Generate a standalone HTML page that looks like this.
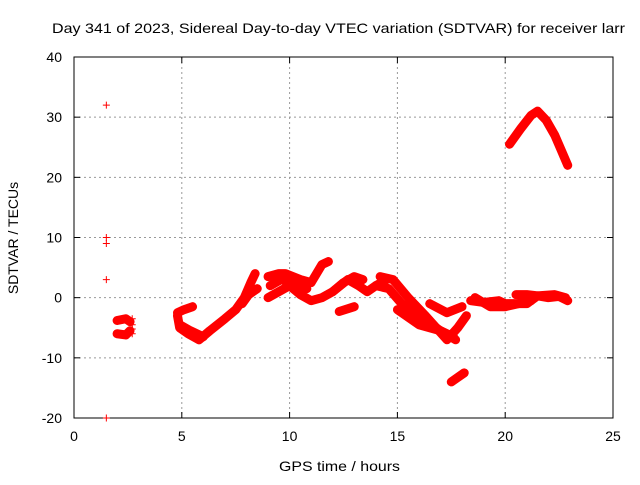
<!DOCTYPE html>
<html><head><meta charset="utf-8"><style>
body{margin:0;background:#fff;font-family:"Liberation Sans",sans-serif}
svg text{font-family:"Liberation Sans",sans-serif;font-size:14px;fill:#000}
</style></head><body>
<svg id="c" width="640" height="480"></svg>
<script>
const xTicks=[0,5,10,15,20,25];
const yTicks=[-20,-10,0,10,20,30,40];
const singleHours=[1.5,1.5,1.5,1.5,1.5,2.7,2.7,2.7,2.7,2.1,2.3];
const singleValues=[32,10,9,3,-20,-3.5,-4.5,-5.2,-6,-3.8,-6];
const trackHours=[
 [20.2,20.7,21.2,21.5,21.9,22.3,22.6,22.9],
 [4.8,4.9,5.3,5.8,6.3,7,7.5,7.9,8.2,8.4],
 [4.8,5.1,5.5],
 [4.9,5.4,6.0],
 [7.8,8.1,8.5],
 [9.0,9.5,9.8,10.5,11,11.5,11.8],
 [9.1,9.6,10.2,10.8],
 [9.0,9.5,10,10.5,11,11.5,12,12.5,13,13.4],
 [12,12.7,13.2,13.6,14,14.5],
 [12.3,13],
 [14.2,14.8,15.5,16.3,17.3,17.8,18.2],
 [14.0,14.6,15.2,16,17,17.6],
 [15,16,17,17.7],
 [16.5,17.3,18],
 [18.4,19,19.7,20,20.5,21,21.5,22,22.5,22.9],
 [18.6,19.3,20,20.6,21.2],
 [20.5,21,21.5,22.3,22.8],
 [17.5,18.1],
 [2.0,2.4,2.6],
 [2.0,2.4,2.6]
];
const trackValues=[
 [25.5,28,30.3,31,29.5,27,24.5,22],
 [-3,-5,-6,-7,-5.5,-3.5,-2,0,2.5,4],
 [-2.5,-2,-1.5],
 [-4.5,-5.5,-6.5],
 [-1,0.5,1.5],
 [3.5,4,4,3,2.5,5.5,6],
 [2,3,2.5,1.5],
 [0,1,2,0.5,-0.5,0,1,2.5,3.5,3],
 [1,3,2,1,2,3],
 [-2.3,-1.5],
 [3.5,3,0,-3,-7,-5,-3],
 [2,1.5,-1,-3,-5.5,-6.5],
 [-2,-4.5,-5.5,-7],
 [-1,-2.5,-1.5],
 [-0.5,-0.8,-0.5,-1,-1,-1,0.3,0,0.2,-0.5],
 [0,-1.5,-1.5,-1,-0.5],
 [0.5,0.5,0.3,0.5,0],
 [-14,-12.5],
 [-3.8,-3.5,-4],
 [-6,-6.2,-5.5]
];
const L=74,R=613,T=57,B=418;
const X=h=>L+(h-0)/(25-0)*(R-L);
const Y=v=>B-(v+20)/60*(B-T);
const svg=document.getElementById('c');
const NS='http://www.w3.org/2000/svg';
function mk(t,a){const e=document.createElementNS(NS,t);for(const k in a)e.setAttribute(k,a[k]);svg.appendChild(e);return e;}
xTicks.forEach(t=>{
 if(t>0&&t<25){const g=mk('line',{x1:X(t),x2:X(t),y1:T,y2:B,stroke:'#999','stroke-dasharray':'2,3'});
 
 }
 const tx=mk('text',{x:X(t),y:B+23,'text-anchor':'middle'});tx.textContent=t;
 
 
 mk('line',{x1:X(t),x2:X(t),y1:B,y2:B-6,stroke:'#000'});
 mk('line',{x1:X(t),x2:X(t),y1:T,y2:T+6,stroke:'#000'});
});
yTicks.forEach(t=>{
 if(t>-20&&t<40){const g=mk('line',{x1:L,x2:R,y1:Y(t),y2:Y(t),stroke:'#999','stroke-dasharray':'2,3'});
 
 }
 const tx=mk('text',{x:L-12,y:Y(t)+5,'text-anchor':'end'});tx.textContent=t;
 
 
 mk('line',{x1:L,x2:L+6,y1:Y(t),y2:Y(t),stroke:'#000'});
 mk('line',{x1:R,x2:R-6,y1:Y(t),y2:Y(t),stroke:'#000'});
});
const fr=mk('rect',{x:L,y:T,width:R-L,height:B-T,fill:'none',stroke:'#000'});


trackHours.forEach((hs,i)=>{
 const p=hs.map((h,j)=>X(h)+','+Y(trackValues[i][j])).join(' ');
 const pl=mk('polyline',{points:p,fill:'none',stroke:'#f00','stroke-width':9,'stroke-linejoin':'round','stroke-linecap':'round'});
 
 
});
singleHours.forEach((h,i)=>{
 const x=X(h),y=Y(singleValues[i]);
 const p=mk('path',{d:`M${x-3.5},${y}H${x+3.5}M${x},${y-3.5}V${y+3.5}`,stroke:'#f00','stroke-width':1});
 
 
});
const ti=mk('text',{x:52,y:33,textLength:573,lengthAdjust:'spacingAndGlyphs'});ti.textContent='Day 341 of 2023, Sidereal Day-to-day VTEC variation (SDTVAR) for receiver larr';


const xl=mk('text',{x:279,y:471,textLength:121,lengthAdjust:'spacingAndGlyphs'});xl.textContent='GPS time / hours';


const yl=mk('text',{x:0,y:0,'text-anchor':'middle',transform:'translate(18,238) rotate(-90)'});yl.textContent='SDTVAR / TECUs';


</script>
</body></html>
